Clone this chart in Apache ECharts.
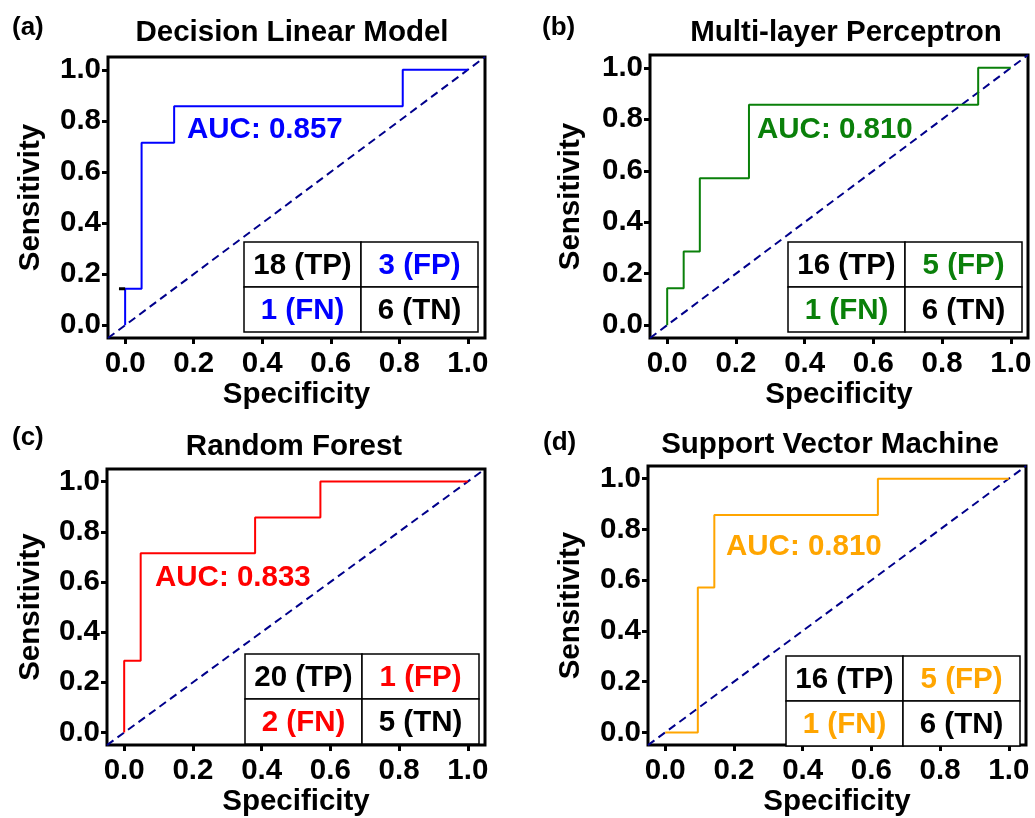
<!DOCTYPE html>
<html lang="en">

<head>
    <meta charset="UTF-8">
    <title>ROC curves</title>
    <style>
        html, body {
            margin: 0;
            padding: 0;
            background: #fff;
        }
        #main {
            width: 1035px;
            height: 818px;
        }
    </style>
    <script src="https://cdn.jsdelivr.net/npm/echarts@6/dist/echarts.min.js"></script>
</head>

<body>
<div id="main"></div>
</body>

<script type="text/javascript">
    // data
    var titles = ['Decision Linear Model', 'Multi-layer Perceptron', 'Random Forest', 'Support Vector Machine'];
    var tags = ['(a)', '(b)', '(c)', '(d)'];
    var aucs = ['0.857', '0.810', '0.833', '0.810'];
    var colors = ['#0000FF', '#0A800A', '#FF0000', '#FFA500'];

    var fprA = [0, 0, 0.048, 0.143, 0.810, 1];
    var tprA = [0, 0.143, 0.714, 0.857, 1, 1];
    var fprB = [0, 0, 0.048, 0.095, 0.238, 0.905, 1];
    var tprB = [0, 0.143, 0.286, 0.571, 0.857, 1, 1];
    var fprC = [0, 0, 0.048, 0.381, 0.571, 1];
    var tprC = [0, 0.286, 0.714, 0.857, 1, 1];
    var fprD = [0, 0.095, 0.143, 0.619, 1];
    var tprD = [0, 0.571, 0.857, 1, 1];

    var tp = [18, 16, 20, 16];
    var fp = [3, 5, 1, 5];
    var fn = [1, 1, 2, 1];
    var tn = [6, 6, 5, 6];

    var tickValues = [0, 0.2, 0.4, 0.6, 0.8, 1.0];
    var axisMin = -0.05, axisMax = 1.05;

    // stray black mark next to the first step in panel (a)
    var strayX = [-0.018, 0];
    var strayY = [0.143, 0.143];

    var fprs = [fprA, fprB, fprC, fprD];
    var tprs = [tprA, tprB, tprC, tprD];

    // layout (pixels)
    var grids = [
        {left: 108, top: 57, width: 377, height: 281},
        {left: 650, top: 55, width: 378, height: 283},
        {left: 107, top: 469, width: 378, height: 282},
        {left: 648, top: 466, width: 378, height: 283}
    ];
    var titlePos = [[292, 33], [846, 33], [294, 447], [830, 445]];
    var tagPos = [[12, 28], [542, 28], [12, 438], [543, 443]];
    var aucPos = [[187, 130], [757, 130], [155, 578], [726, 547]];
    var tablePos = [[244, 242], [788, 242], [245, 654], [786, 656]];
    var cellW = 117, cellH = 45;
    var yNameGap = [62, 64, 61, 62];

    var FONT = '"Liberation Sans", Arial, sans-serif';
    var FS = 29.5;

    function pairs(xs, ys) {
        var out = [];
        for (var i = 0; i < xs.length; i++) out.push([xs[i], ys[i]]);
        return out;
    }

    var xAxes = [], yAxes = [], series = [], graphics = [];

    for (var k = 0; k < 4; k++) {
        xAxes.push({
            gridIndex: k,
            type: 'value',
            min: axisMin,
            max: axisMax,
            name: 'Specificity',
            nameLocation: 'middle',
            nameGap: 41,
            nameTextStyle: {fontSize: FS, fontWeight: 'bold', color: '#000', fontFamily: FONT},
            axisLine: {show: false, onZero: false},
            axisTick: {show: true, length: 6, customValues: tickValues, lineStyle: {color: '#000', width: 3}},
            axisLabel: {
                customValues: tickValues, margin: 11,
                fontSize: FS, fontWeight: 'bold', color: '#000', fontFamily: FONT,
                formatter: function (v) { return v.toFixed(1); }
            },
            splitLine: {show: false}
        });
        yAxes.push({
            gridIndex: k,
            type: 'value',
            min: axisMin,
            max: axisMax,
            name: 'Sensitivity',
            nameLocation: 'middle',
            nameGap: yNameGap[k],
            nameTextStyle: {fontSize: FS, fontWeight: 'bold', color: '#000', fontFamily: FONT},
            axisLine: {show: false, onZero: false},
            axisTick: {show: true, length: 6, customValues: tickValues, lineStyle: {color: '#000', width: 3}},
            axisLabel: {
                customValues: tickValues, margin: 7,
                fontSize: FS, fontWeight: 'bold', color: '#000', fontFamily: FONT,
                formatter: function (v) { return v.toFixed(1); }
            },
            splitLine: {show: false}
        });

        // chance line corner to corner
        series.push({
            type: 'line',
            xAxisIndex: k, yAxisIndex: k,
            data: [[axisMin, axisMin], [axisMax, axisMax]],
            symbol: 'none',
            silent: true,
            lineStyle: {color: '#00008B', width: 2, type: [8, 5]}
        });
        // ROC curve
        series.push({
            type: 'line',
            xAxisIndex: k, yAxisIndex: k,
            data: pairs(fprs[k], tprs[k]),
            step: 'end',
            symbol: 'none',
            silent: true,
            lineStyle: {color: colors[k], width: 2}
        });

        // title and panel tag
        graphics.push({
            type: 'text', z: 100, x: titlePos[k][0], y: titlePos[k][1],
            style: {text: titles[k], fill: '#000', font: 'bold ' + FS + 'px ' + FONT, align: 'center', verticalAlign: 'middle'}
        });
        graphics.push({
            type: 'text', z: 100, x: tagPos[k][0], y: tagPos[k][1],
            style: {text: tags[k], fill: '#000', font: 'bold 26px ' + FONT, align: 'left', verticalAlign: 'middle'}
        });
        // AUC text
        graphics.push({
            type: 'text', z: 100, x: aucPos[k][0], y: aucPos[k][1],
            style: {text: 'AUC: ' + aucs[k], fill: colors[k], font: 'bold ' + FS + 'px ' + FONT, align: 'left', verticalAlign: 'middle'}
        });

        // confusion matrix table
        var tx = tablePos[k][0], ty = tablePos[k][1];
        var cells = [
            [tp[k] + ' (TP)', '#000', 0, 0],
            [fp[k] + ' (FP)', colors[k], 1, 0],
            [fn[k] + ' (FN)', colors[k], 0, 1],
            [tn[k] + ' (TN)', '#000', 1, 1]
        ];
        for (var c = 0; c < cells.length; c++) {
            graphics.push({
                type: 'rect', z: 100,
                shape: {x: tx + cells[c][2] * cellW, y: ty + cells[c][3] * cellH, width: cellW, height: cellH},
                style: {fill: '#fff', stroke: '#000', lineWidth: 1.5}
            });
            graphics.push({
                type: 'text', z: 101,
                x: tx + cells[c][2] * cellW + cellW / 2,
                y: ty + cells[c][3] * cellH + cellH / 2 + 1,
                style: {text: cells[c][0], fill: cells[c][1], font: 'bold ' + FS + 'px ' + FONT, align: 'center', verticalAlign: 'middle'}
            });
        }
    }

    series.push({
        type: 'line',
        xAxisIndex: 0, yAxisIndex: 0,
        data: pairs(strayX, strayY),
        symbol: 'none',
        silent: true,
        lineStyle: {color: '#000', width: 3}
    });

    var gridOpts = grids.map(function (g) {
        return {
            left: g.left, top: g.top, width: g.width, height: g.height,
            show: true, borderColor: '#000', borderWidth: 3, backgroundColor: 'transparent',
            containLabel: false
        };
    });

    var myChart = echarts.init(document.getElementById('main'));
    var option = {
        animation: false,
        backgroundColor: '#fff',
        grid: gridOpts,
        xAxis: xAxes,
        yAxis: yAxes,
        series: series,
        graphic: graphics
    };
    myChart.setOption(option);
</script>

</html>
